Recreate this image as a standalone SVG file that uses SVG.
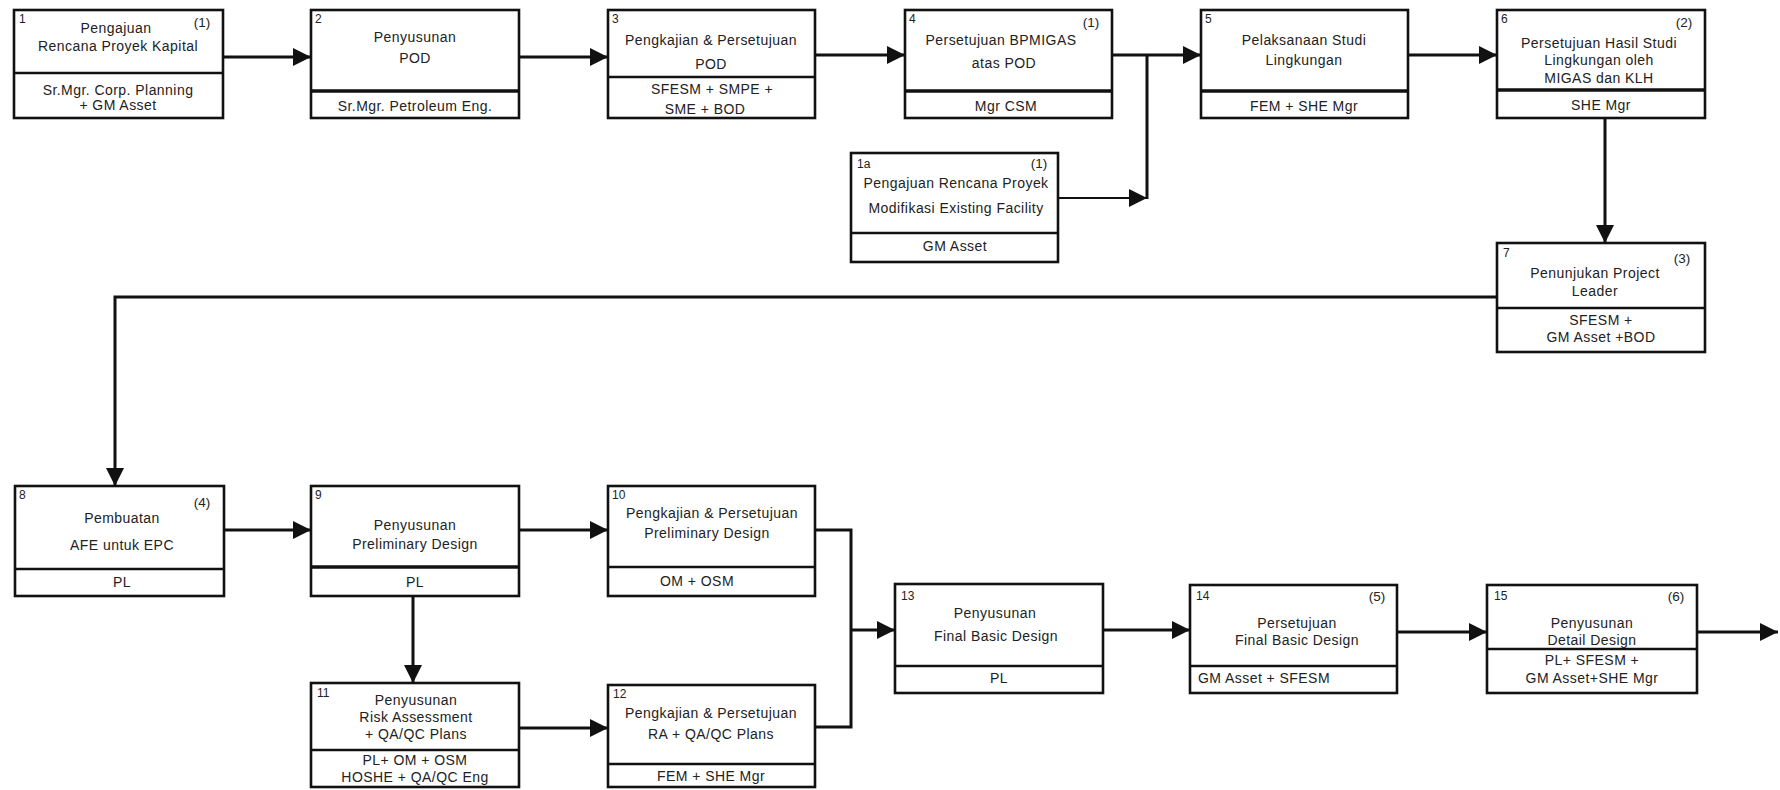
<svg xmlns="http://www.w3.org/2000/svg" width="1780" height="790" viewBox="0 0 1780 790">
<style>
.bx{fill:#fff;stroke:#111;stroke-width:2.6}
.dv{stroke:#111;stroke-width:2.6}
.dk{stroke:#111;stroke-width:3.6}
.t{font-family:"Liberation Sans",Arial,sans-serif;font-size:14px;letter-spacing:0.45px;text-anchor:middle;fill:#222}
.n{font-family:"Liberation Sans",Arial,sans-serif;font-size:12px;fill:#222}
.p{font-family:"Liberation Sans",Arial,sans-serif;font-size:13.5px;text-anchor:middle;fill:#222}
.c{fill:none;stroke:#111;stroke-width:3}
.th{stroke-width:1.8}
</style>
<defs>
<marker id="ah" markerUnits="userSpaceOnUse" markerWidth="19" markerHeight="19" refX="18" refY="9" orient="auto">
<path d="M0,0 L18,9 L0,18 Z" fill="#111"/>
</marker>
</defs>
<rect width="1780" height="790" fill="#fff"/>

<g id="connectors">
<line class="c" x1="223" y1="57" x2="311" y2="57" marker-end="url(#ah)"/>
<line class="c" x1="519" y1="57" x2="608" y2="57" marker-end="url(#ah)"/>
<line class="c" x1="815" y1="55" x2="905" y2="55" marker-end="url(#ah)"/>
<line class="c" x1="1112" y1="55" x2="1201" y2="55" marker-end="url(#ah)"/>
<line class="c" x1="1147" y1="55" x2="1147" y2="199"/>
<line class="c th" x1="1058" y1="198" x2="1147" y2="198" marker-end="url(#ah)"/>
<line class="c" x1="1408" y1="55" x2="1497" y2="55" marker-end="url(#ah)"/>
<line class="c" x1="1605" y1="118" x2="1605" y2="243" marker-end="url(#ah)"/>
<path class="c" d="M1497,297 H115 V486" marker-end="url(#ah)"/>
<line class="c" x1="224" y1="530" x2="311" y2="530" marker-end="url(#ah)"/>
<line class="c" x1="519" y1="530" x2="608" y2="530" marker-end="url(#ah)"/>
<line class="c" x1="413" y1="596" x2="413" y2="683" marker-end="url(#ah)"/>
<line class="c" x1="519" y1="728" x2="608" y2="728" marker-end="url(#ah)"/>
<path class="c" d="M815,530 H851 V727 H815"/>
<line class="c" x1="851" y1="630" x2="895" y2="630" marker-end="url(#ah)"/>
<line class="c" x1="1103" y1="630" x2="1190" y2="630" marker-end="url(#ah)"/>
<line class="c" x1="1397" y1="632" x2="1487" y2="632" marker-end="url(#ah)"/>
<line class="c" x1="1697" y1="632" x2="1778" y2="632" marker-end="url(#ah)"/>
</g>

<g id="node1">
<rect class="bx" x="14" y="10" width="209" height="108"/>
<line class="dv" x1="14" y1="73" x2="223" y2="73"/>
<text class="n" x="19" y="23">1</text>
<text class="p" x="202" y="27">(1)</text>
<text class="t" x="116" y="33">Pengajuan</text>
<text class="t" x="118" y="51">Rencana Proyek Kapital</text>
<text class="t" x="118" y="95">Sr.Mgr. Corp. Planning</text>
<text class="t" x="118" y="110">+ GM Asset</text>
</g>

<g id="node2">
<rect class="bx" x="311" y="10" width="208" height="108"/>
<line class="dk" x1="311" y1="91" x2="519" y2="91"/>
<text class="n" x="315" y="23">2</text>
<text class="t" x="415" y="42">Penyusunan</text>
<text class="t" x="415" y="63">POD</text>
<text class="t" x="415" y="111">Sr.Mgr. Petroleum Eng.</text>
</g>

<g id="node3">
<rect class="bx" x="608" y="10" width="207" height="108"/>
<line class="dv" x1="608" y1="77" x2="815" y2="77"/>
<text class="n" x="612" y="23">3</text>
<text class="t" x="711" y="45">Pengkajian &amp; Persetujuan</text>
<text class="t" x="711" y="69">POD</text>
<text class="t" x="712" y="94">SFESM + SMPE +</text>
<text class="t" x="705" y="114">SME + BOD</text>
</g>

<g id="node4">
<rect class="bx" x="905" y="10" width="207" height="108"/>
<line class="dk" x1="905" y1="91" x2="1112" y2="91"/>
<text class="n" x="909" y="23">4</text>
<text class="p" x="1091" y="27">(1)</text>
<text class="t" x="1001" y="45">Persetujuan BPMIGAS</text>
<text class="t" x="1004" y="68">atas POD</text>
<text class="t" x="1006" y="111">Mgr CSM</text>
</g>

<g id="node1a">
<rect class="bx" x="851" y="153" width="207" height="109"/>
<line class="dv" x1="851" y1="233" x2="1058" y2="233"/>
<text class="n" x="857" y="168">1a</text>
<text class="p" x="1039" y="168">(1)</text>
<text class="t" x="956" y="188">Pengajuan Rencana Proyek</text>
<text class="t" x="956" y="213">Modifikasi Existing Facility</text>
<text class="t" x="955" y="251">GM Asset</text>
</g>

<g id="node5">
<rect class="bx" x="1201" y="10" width="207" height="108"/>
<line class="dk" x1="1201" y1="91" x2="1408" y2="91"/>
<text class="n" x="1205" y="23">5</text>
<text class="t" x="1304" y="45">Pelaksanaan Studi</text>
<text class="t" x="1304" y="65">Lingkungan</text>
<text class="t" x="1304" y="111">FEM + SHE Mgr</text>
</g>

<g id="node6">
<rect class="bx" x="1497" y="10" width="208" height="108"/>
<line class="dk" x1="1497" y1="90" x2="1705" y2="90"/>
<text class="n" x="1501" y="23">6</text>
<text class="p" x="1684" y="27">(2)</text>
<text class="t" x="1599" y="48">Persetujuan Hasil Studi</text>
<text class="t" x="1599" y="65">Lingkungan oleh</text>
<text class="t" x="1599" y="83">MIGAS dan KLH</text>
<text class="t" x="1601" y="110">SHE Mgr</text>
</g>

<g id="node7">
<rect class="bx" x="1497" y="243" width="208" height="109"/>
<line class="dv" x1="1497" y1="308" x2="1705" y2="308"/>
<text class="n" x="1503" y="257">7</text>
<text class="p" x="1682" y="263">(3)</text>
<text class="t" x="1595" y="278">Penunjukan Project</text>
<text class="t" x="1595" y="296">Leader</text>
<text class="t" x="1601" y="325">SFESM +</text>
<text class="t" x="1601" y="342">GM Asset +BOD</text>
</g>

<g id="node8">
<rect class="bx" x="15" y="486" width="209" height="110"/>
<line class="dv" x1="15" y1="569" x2="224" y2="569"/>
<text class="n" x="19" y="499">8</text>
<text class="p" x="202" y="507">(4)</text>
<text class="t" x="122" y="523">Pembuatan</text>
<text class="t" x="122" y="550">AFE untuk EPC</text>
<text class="t" x="122" y="587">PL</text>
</g>

<g id="node9">
<rect class="bx" x="311" y="486" width="208" height="110"/>
<line class="dk" x1="311" y1="567" x2="519" y2="567"/>
<text class="n" x="315" y="499">9</text>
<text class="t" x="415" y="530">Penyusunan</text>
<text class="t" x="415" y="549">Preliminary Design</text>
<text class="t" x="415" y="587">PL</text>
</g>

<g id="node10">
<rect class="bx" x="608" y="486" width="207" height="110"/>
<line class="dv" x1="608" y1="567" x2="815" y2="567"/>
<text class="n" x="612" y="499">10</text>
<text class="t" x="712" y="518">Pengkajian &amp; Persetujuan</text>
<text class="t" x="707" y="538">Preliminary Design</text>
<text class="t" x="697" y="586">OM + OSM</text>
</g>

<g id="node11">
<rect class="bx" x="311" y="683" width="208" height="104"/>
<line class="dv" x1="311" y1="750" x2="519" y2="750"/>
<text class="n" x="317" y="697">11</text>
<text class="t" x="416" y="705">Penyusunan</text>
<text class="t" x="416" y="722">Risk Assessment</text>
<text class="t" x="416" y="739">+ QA/QC Plans</text>
<text class="t" x="415" y="765">PL+ OM + OSM</text>
<text class="t" x="415" y="782">HOSHE + QA/QC Eng</text>
</g>

<g id="node12">
<rect class="bx" x="608" y="685" width="207" height="102"/>
<line class="dv" x1="608" y1="764" x2="815" y2="764"/>
<text class="n" x="613" y="698">12</text>
<text class="t" x="711" y="718">Pengkajian &amp; Persetujuan</text>
<text class="t" x="711" y="739">RA + QA/QC Plans</text>
<text class="t" x="711" y="781">FEM + SHE Mgr</text>
</g>

<g id="node13">
<rect class="bx" x="895" y="584" width="208" height="109"/>
<line class="dv" x1="895" y1="666" x2="1103" y2="666"/>
<text class="n" x="901" y="600">13</text>
<text class="t" x="995" y="618">Penyusunan</text>
<text class="t" x="996" y="641">Final Basic Design</text>
<text class="t" x="999" y="683">PL</text>
</g>

<g id="node14">
<rect class="bx" x="1190" y="585" width="207" height="108"/>
<line class="dv" x1="1190" y1="666" x2="1397" y2="666"/>
<text class="n" x="1196" y="600">14</text>
<text class="p" x="1377" y="601">(5)</text>
<text class="t" x="1297" y="628">Persetujuan</text>
<text class="t" x="1297" y="645">Final Basic Design</text>
<text class="t" x="1264" y="683">GM Asset + SFESM</text>
</g>

<g id="node15">
<rect class="bx" x="1487" y="585" width="210" height="108"/>
<line class="dv" x1="1487" y1="649" x2="1697" y2="649"/>
<text class="n" x="1494" y="600">15</text>
<text class="p" x="1676" y="601">(6)</text>
<text class="t" x="1592" y="628">Penyusunan</text>
<text class="t" x="1592" y="645">Detail Design</text>
<text class="t" x="1592" y="665">PL+ SFESM +</text>
<text class="t" x="1592" y="683">GM Asset+SHE Mgr</text>
</g>
</svg>
